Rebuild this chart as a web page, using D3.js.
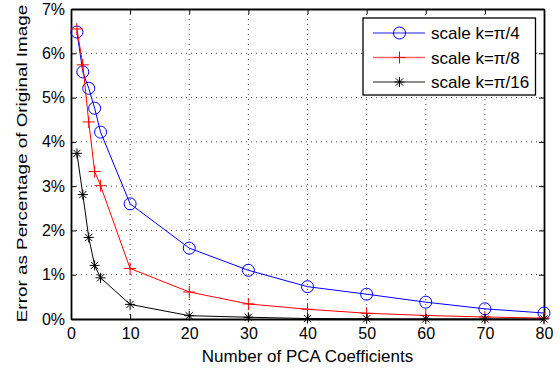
<!DOCTYPE html>
<html>
<head>
<meta charset="utf-8">
<script src="https://cdn.jsdelivr.net/npm/d3@7"></script>
<style>
  body { margin: 0; background: #fff; }
  svg text { font-family: "Liberation Sans", Arial, sans-serif; fill: #000; }
</style>
</head>
<body>
<div id="chart"></div>
<script>
// number of PCA coefficients
const coeffs = [1, 2, 3, 4, 5, 10, 20, 30, 40, 50, 60, 70, 80];
// error in percent
const errPi4 = [6.48, 5.58, 5.21, 4.76, 4.22, 2.60, 1.60, 1.10, 0.73, 0.56, 0.38, 0.23, 0.135];
const errPi8 = [6.55, 5.74, 4.45, 3.33, 3.01, 1.14, 0.61, 0.34, 0.22, 0.13, 0.08, 0.045, 0.02];
const errPi16 = [3.74, 2.81, 1.84, 1.21, 0.93, 0.33, 0.075, 0.04, 0.01, 0.005, 0.0, 0.0, 0.0];
const xTicks = [0, 10, 20, 30, 40, 50, 60, 70, 80];
const yTicks = [0, 1, 2, 3, 4, 5, 6, 7];
const seriesNames = ["scale k=\u03c0/4", "scale k=\u03c0/8", "scale k=\u03c0/16"];

const W = 560, H = 371;
const margin = {left: 71, right: 16, top: 9, bottom: 52};
const iw = W - margin.left - margin.right;
const ih = H - margin.top - margin.bottom;

const svg = d3.select("#chart").append("svg")
  .attr("width", W)
  .attr("height", H);

const g = svg.append("g")
  .attr("transform", `translate(${margin.left},${margin.top})`);

const x = d3.scaleLinear().domain([0, 80]).range([0, iw]);
const y = d3.scaleLinear().domain([0, 7]).range([ih, 0]);

// dotted grid
g.selectAll(".vgrid")
  .data(xTicks.slice(1, -1))
  .join("line")
  .attr("x1", d => x(d)).attr("x2", d => x(d))
  .attr("y1", 0).attr("y2", ih)
  .attr("stroke", "#444")
  .attr("stroke-width", 1)
  .attr("stroke-dasharray", "1,4");
g.selectAll(".hgrid")
  .data(yTicks.slice(1, -1))
  .join("line")
  .attr("x1", 0).attr("x2", iw)
  .attr("y1", d => y(d)).attr("y2", d => y(d))
  .attr("stroke", "#444")
  .attr("stroke-width", 1)
  .attr("stroke-dasharray", "1,4");

// axes (matlab style box with inward ticks)
const fmtPct = d => d + "%";
const axB = g.append("g").attr("transform", `translate(0,${ih})`)
  .call(d3.axisBottom(x).tickValues(xTicks).tickSizeInner(-5).tickSizeOuter(0).tickPadding(9));
const axT = g.append("g")
  .call(d3.axisTop(x).tickValues(xTicks).tickSizeInner(-5).tickSizeOuter(0).tickFormat(""));
const axL = g.append("g")
  .call(d3.axisLeft(y).tickValues(yTicks).tickFormat(fmtPct).tickSizeInner(-5).tickSizeOuter(0).tickPadding(6));
const axR = g.append("g").attr("transform", `translate(${iw},0)`)
  .call(d3.axisRight(y).tickValues(yTicks).tickSizeInner(-5).tickSizeOuter(0).tickFormat(""));

[axB, axT, axL, axR].forEach(a => {
  a.select(".domain").attr("stroke", "#000").attr("stroke-width", 1.8);
  a.selectAll(".tick line").attr("stroke", "#000").attr("stroke-width", 1);
  a.selectAll(".tick text")
    .style("font-family", "'Liberation Sans', Arial, sans-serif")
    .style("font-size", "16px")
    .attr("fill", "#000");
});

// series
const series = [
  {name: seriesNames[0], vals: errPi4, color: "#0000ff", marker: "circle"},
  {name: seriesNames[1], vals: errPi8, color: "#ff0000", marker: "plus"},
  {name: seriesNames[2], vals: errPi16, color: "#000000", marker: "star"}
];

const line = d3.line()
  .x((d, i) => x(coeffs[i]))
  .y(d => y(d));

function drawMarker(sel, type, color) {
  if (type == "circle") {
    sel.append("circle")
      .attr("r", 6)
      .attr("fill", "none")
      .attr("stroke", color)
      .attr("stroke-width", 1);
  } else if (type == "plus") {
    sel.append("path")
      .attr("d", "M-6,0H6M0,-6V6")
      .attr("stroke", color)
      .attr("stroke-width", 1);
  } else {
    sel.append("path")
      .attr("d", "M-5,0H5M0,-5V5M-3.6,-3.6L3.6,3.6M-3.6,3.6L3.6,-3.6")
      .attr("stroke", color)
      .attr("stroke-width", 1);
  }
}

series.forEach(s => {
  g.append("path")
    .datum(s.vals)
    .attr("d", line)
    .attr("fill", "none")
    .attr("stroke", s.color)
    .attr("stroke-width", 1);
  g.selectAll(null)
    .data(s.vals)
    .join("g")
    .attr("transform", (d, i) => `translate(${x(coeffs[i])},${y(d)})`)
    .each(function() { drawMarker(d3.select(this), s.marker, s.color); });
});

// axis titles
svg.append("text")
  .attr("x", margin.left + iw / 2)
  .attr("y", 361.5)
  .attr("text-anchor", "middle")
  .style("font-size", "17px")
  .text("Number of PCA Coefficients");

// the rotated label in the original is stretched along its length
svg.append("text")
  .attr("transform", `translate(26.5,${margin.top + ih / 2 - 0.5}) rotate(-90) scale(1.11,0.9)`)
  .attr("text-anchor", "middle")
  .style("font-size", "17px")
  .text("Error as Percentage of Original Image");

// legend
const leg = svg.append("g").attr("transform", "translate(363,18)");
leg.append("rect")
  .attr("width", 172.5)
  .attr("height", 77)
  .attr("fill", "#fff")
  .attr("stroke", "#000")
  .attr("stroke-width", 1.3);

series.forEach((s, i) => {
  const row = leg.append("g").attr("transform", `translate(0,${15 + i * 24.5})`);
  row.append("line")
    .attr("x1", 10).attr("x2", 62)
    .attr("stroke", s.color)
    .attr("stroke-opacity", 0.6)
    .attr("stroke-width", 1.5);
  const m = row.append("g").attr("transform", "translate(36.5,0)");
  drawMarker(m, s.marker, s.color);
  row.append("text")
    .attr("x", 68)
    .attr("y", 6)
    .style("font-size", "17px")
    .text(s.name);
});
</script>
</body>
</html>
